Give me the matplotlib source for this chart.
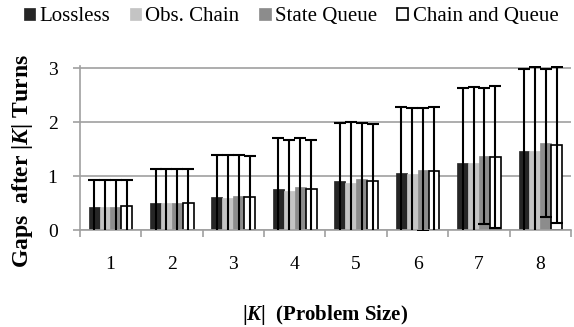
import matplotlib
matplotlib.use("Agg")
import matplotlib.pyplot as plt
import numpy as np

plt.rcParams['font.family'] = ['Liberation Serif', 'DejaVu Serif']
plt.rcParams['mathtext.fontset'] = 'custom'
plt.rcParams['mathtext.it'] = 'Liberation Serif:italic:bold'
plt.rcParams['mathtext.rm'] = 'Liberation Serif:bold'

categories = ['1', '2', '3', '4', '5', '6', '7', '8']
series = ['Lossless', 'Obs. Chain', 'State Queue', 'Chain and Queue']
lossless = [0.43, 0.50, 0.61, 0.755, 0.90, 1.06, 1.25, 1.47]
obs_chain = [0.43, 0.50, 0.59, 0.72, 0.88, 1.03, 1.25, 1.47]
state_queue = [0.43, 0.50, 0.64, 0.80, 0.94, 1.12, 1.37, 1.61]
chain_queue = [0.44, 0.51, 0.62, 0.755, 0.91, 1.10, 1.36, 1.58]
err_lossless = [0.50, 0.64, 0.78, 0.945, 1.08, 1.23, 1.38, 1.52]
err_obs_chain = [0.50, 0.64, 0.80, 0.95, 1.12, 1.24, 1.40, 1.56]
err_state_queue = [0.50, 0.64, 0.75, 0.90, 1.04, 1.14, 1.26, 1.37]
err_chain_queue = [0.49, 0.63, 0.75, 0.915, 1.05, 1.18, 1.32, 1.45]

values = [lossless, obs_chain, state_queue, chain_queue]
errors = [err_lossless, err_obs_chain, err_state_queue, err_chain_queue]
faces = ['#262626', '#c4c4c4', '#8c8c8c', 'white']
edges = ['#262626', '#c4c4c4', '#8c8c8c', 'black']

fig = plt.figure(figsize=(5.74, 3.27), dpi=100)
ax = fig.add_axes([0.139, 0.2966, 0.856, 0.5028])

x = np.arange(len(categories))
w = 0.178
for i in range(4):
    pos = x + (i - 1.5) * w
    ax.bar(pos, values[i], w, color=faces[i], edgecolor=edges[i],
           linewidth=1.2 if i == 3 else 0.5, label=series[i], zorder=2)
    ax.errorbar(pos, values[i], yerr=errors[i], fmt='none', ecolor='black',
                elinewidth=1.5, capsize=4.5, capthick=1.5, zorder=3)

ax.set_xlim(-0.5, len(categories) - 0.5)
ax.set_ylim(0, 3.05)
ax.set_yticks([0, 1, 2, 3])
ax.yaxis.grid(True, color='#a0a0a0', linewidth=1.2, zorder=0)
ax.set_axisbelow(True)
ax.set_xticks(np.arange(len(categories) + 1) - 0.5, minor=False)
ax.set_xticklabels([])
ax.set_xticks(x, minor=True)
ax.set_xticklabels(categories, minor=True)
ax.tick_params(axis='x', which='minor', length=0, pad=19, labelsize=14)
ax.tick_params(axis='x', which='major', length=5, color='#a0a0a0', width=1.2)
ax.tick_params(axis='y', length=5, color='#a0a0a0', width=1.2, labelsize=14, pad=11)
for s in ['top', 'right']:
    ax.spines[s].set_visible(False)
for s in ['left', 'bottom']:
    ax.spines[s].set_color('#a0a0a0')
    ax.spines[s].set_linewidth(1.2)

ax.set_ylabel(r'Gaps  after |$K$| Turns', fontsize=17, fontweight='bold')
ax.yaxis.set_label_coords(-0.092, 0.42)
ax.set_xlabel(r'|$K$|  (Problem Size)', fontsize=15, fontweight='bold')
ax.xaxis.set_label_coords(0.50, -0.445)

leg = fig.legend(loc='upper center', bbox_to_anchor=(0.507, 1.035), ncol=4, frameon=False,
                 fontsize=15, handlelength=0.55, handleheight=0.55, handletextpad=0.2,
                 columnspacing=0.95)

fig.savefig('out.png', dpi=100)
